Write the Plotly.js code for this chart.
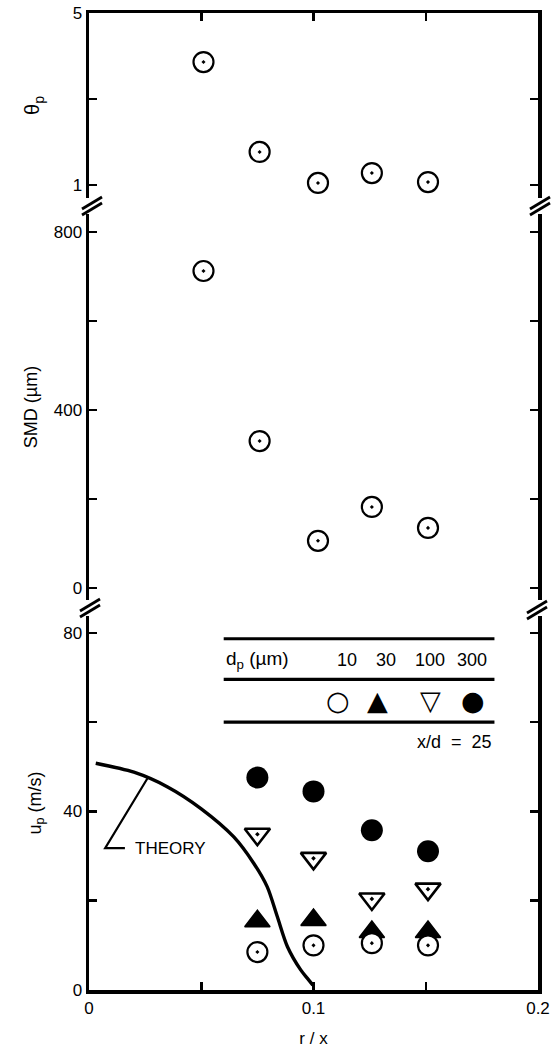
<!DOCTYPE html>
<html>
<head>
<meta charset="utf-8">
<script src="https://cdn.plot.ly/plotly-3.0.1.min.js"></script>
<style>html,body{margin:0;padding:0;background:#fff;}</style>
</head>
<body>
<div id="chart" style="width:553px;height:1057px;"></div>
<script>
// ---------- data ----------
const rTop = [0.051, 0.076, 0.102, 0.126, 0.151];      // r/x for theta_p and SMD
const thetaP = [3.86, 1.77, 1.05, 1.28, 1.07];
const smd = [712, 330, 106, 182, 135];                  // SMD (µm)

const rBot = [0.075, 0.100, 0.126, 0.151];              // r/x for velocities
const up10 = [8.5, 10.0, 10.5, 10.0];                   // dp = 10 µm
const up30 = [15.4, 15.7, 13.0, 13.0];                  // dp = 30 µm
const up100 = [34.9, 29.5, 20.4, 22.6];                 // dp = 100 µm
const up300 = [47.6, 44.5, 35.8, 31.1];                 // dp = 300 µm

const theoryR = [0.003, 0.020, 0.035, 0.050, 0.0645, 0.0735, 0.0794, 0.0839, 0.0884, 0.0943, 0.0973, 0.0997];
const theoryU = [50.8, 48.8, 45.5, 40.6, 34.3, 28.3, 23.1, 16.4, 9.7, 4.5, 2.6, 1.1];

const legendSizes = ['10', '30', '100', '300'];
const legendGlyphs = ['\u25CB', '\u25B2', '\u25BD', '\u25CF'];

// ---------- layout helpers ----------
const W = 553, H = 1057;
const M = {l: 89, r: 15, t: 13, b: 67};
const PW = W - M.l - M.r, PH = H - M.t - M.b;
const px2x = p => (p - M.l) / PW;
const py2y = p => (H - M.b - p) / PH;
const FONT = 'Liberation Sans, Arial, sans-serif';
const black = '#000';

const axisCommon = {
  showline: true, linecolor: black, linewidth: 3.5,
  ticks: 'inside', ticklen: 8, tickwidth: 2.5, tickcolor: black,
  mirror: 'ticks', showgrid: false, zeroline: false,
  tickfont: {family: FONT, size: 17, color: black},
  fixedrange: true
};
const minorCommon = {ticks: 'inside', ticklen: 8, tickwidth: 2.5, tickcolor: black, showgrid: false};

const traces = [
  {x: rTop, y: thetaP, xaxis: 'x2', yaxis: 'y', mode: 'markers', name: 'theta_p',
   marker: {symbol: 'circle-dot', size: 20, color: '#fff', line: {color: black, width: 2.2}}},
  {x: rTop, y: smd, xaxis: 'x', yaxis: 'y2', mode: 'markers', name: 'SMD',
   marker: {symbol: 'circle-dot', size: 20, color: '#fff', line: {color: black, width: 2.2}}},
  {x: theoryR, y: theoryU, xaxis: 'x', yaxis: 'y3', mode: 'lines', name: 'Theory',
   line: {color: black, width: 3.4, shape: 'spline', smoothing: 0.8}},
  {x: rBot, y: up300, xaxis: 'x', yaxis: 'y3', mode: 'markers', name: '300 µm',
   marker: {symbol: 'circle', size: 22, color: black}},
  {x: rBot, y: up100, xaxis: 'x', yaxis: 'y3', mode: 'markers', name: '100 µm',
   marker: {symbol: 'triangle-down-dot', size: 22, color: '#fff', line: {color: black, width: 2.6}}},
  {x: rBot, y: up30, xaxis: 'x', yaxis: 'y3', mode: 'markers', name: '30 µm',
   marker: {symbol: 'triangle-up', size: 22, color: black, line: {color: black, width: 1.5}}},
  {x: rBot, y: up10, xaxis: 'x', yaxis: 'y3', mode: 'markers', name: '10 µm',
   marker: {symbol: 'circle-dot', size: 20, color: '#fff', line: {color: black, width: 2.2}}}
];

// break marks on the vertical axes
function breakMark(cx, cy) {
  const out = [];
  [-3, 3].forEach(d => {
    out.push({type: 'line', xref: 'paper', yref: 'paper',
      x0: px2x(cx - 10), y0: py2y(cy + 6 + d), x1: px2x(cx + 10), y1: py2y(cy - 6 + d),
      line: {color: black, width: 2.8}});
  });
  return out;
}

const shapes = [].concat(
  breakMark(92, 206), breakMark(540, 206), breakMark(90, 608), breakMark(537, 610)
);

// legend table rules (bottom panel, data coordinates)
const ruleY = [78.7, 69.6, 60.0];
ruleY.forEach(v => shapes.push({type: 'line', xref: 'x', yref: 'y3',
  x0: 0.060, x1: 0.1806, y0: v, y1: v, line: {color: black, width: 3.2}}));

// Theory leader line
shapes.push({type: 'path', xref: 'x', yref: 'y3',
  path: 'M 0.026 47.4 L 0.0072 31.8 L 0.016 31.8', line: {color: black, width: 2.2}});

const sizeX = [0.1147, 0.1323, 0.1520, 0.1708];
const glyphX = [0.1109, 0.1287, 0.1520, 0.1712];
const annotations = [
  {xref: 'x', yref: 'y3', x: 0.060, y: 74.0, xanchor: 'left', yanchor: 'middle', showarrow: false,
   text: 'd<sub>p</sub> (\u00B5m)', font: {family: FONT, size: 19, color: black}},
  {xref: 'x', yref: 'y3', x: 0.1806, y: 55.6, xanchor: 'right', yanchor: 'middle', showarrow: false,
   text: 'x/d\u00A0\u00A0=\u00A0\u00A025', font: {family: FONT, size: 18, color: black}},
  {xref: 'x', yref: 'y3', x: 0.0195, y: 31.8, xanchor: 'left', yanchor: 'middle', showarrow: false,
   text: 'THEORY', font: {family: 'Liberation Sans Narrow, Arial Narrow, sans-serif', size: 17, color: black}}
];
legendSizes.forEach((s, i) => annotations.push({xref: 'x', yref: 'y3', x: sizeX[i], y: 74.0,
  xanchor: 'center', yanchor: 'middle', showarrow: false, text: s,
  font: {family: FONT, size: 18, color: black}}));
legendGlyphs.forEach((g, i) => annotations.push({xref: 'x', yref: 'y3', x: glyphX[i], y: 64.9,
  xanchor: 'center', yanchor: 'middle', showarrow: false, text: g,
  font: {family: 'DejaVu Sans, sans-serif', size: 27, color: black}}));

const layout = {
  width: W, height: H, margin: M, showlegend: false,
  paper_bgcolor: '#fff', plot_bgcolor: '#fff',
  font: {family: FONT, color: black},
  xaxis: Object.assign({}, axisCommon, {
    range: [0, 0.2], anchor: 'y3', domain: [0, 1], mirror: false,
    tick0: 0, dtick: 0.1, minor: Object.assign({tick0: 0, dtick: 0.05}, minorCommon),
    title: {text: 'r / x', font: {family: FONT, size: 17, color: black}, standoff: 16}
  }),
  xaxis2: Object.assign({}, axisCommon, {
    range: [0, 0.2], matches: 'x', anchor: 'y', overlaying: 'x', side: 'top', mirror: false,
    tick0: 0, dtick: 0.05, showticklabels: false, linewidth: 3
  }),
  yaxis: Object.assign({}, axisCommon, {
    domain: [py2y(198), 1], range: [0.70, 5], anchor: 'x2',
    tick0: 1, dtick: 4, minor: Object.assign({tick0: 1, dtick: 2}, minorCommon),
    title: {text: '\u03B8<sub>p</sub>', font: {family: FONT, size: 20, color: black}, standoff: 28}
  }),
  yaxis2: Object.assign({}, axisCommon, {
    domain: [py2y(600), py2y(214)], range: [-27, 840], anchor: 'x',
    tick0: 0, dtick: 400, minor: Object.assign({tick0: 0, dtick: 200}, minorCommon),
    title: {text: 'SMD (\u00B5m)', font: {family: FONT, size: 18, color: black}, standoff: 12}
  }),
  yaxis3: Object.assign({}, axisCommon, {
    domain: [0, py2y(616)], range: [0, 83.8], anchor: 'x',
    tick0: 0, dtick: 40, minor: Object.assign({tick0: 0, dtick: 20}, minorCommon),
    title: {text: 'u<sub>p</sub> (m/s)', font: {family: FONT, size: 18, color: black}, standoff: 18}
  }),
  shapes: shapes,
  annotations: annotations
};

Plotly.newPlot('chart', traces, layout, {displayModeBar: false, staticPlot: true});
</script>
</body>
</html>
